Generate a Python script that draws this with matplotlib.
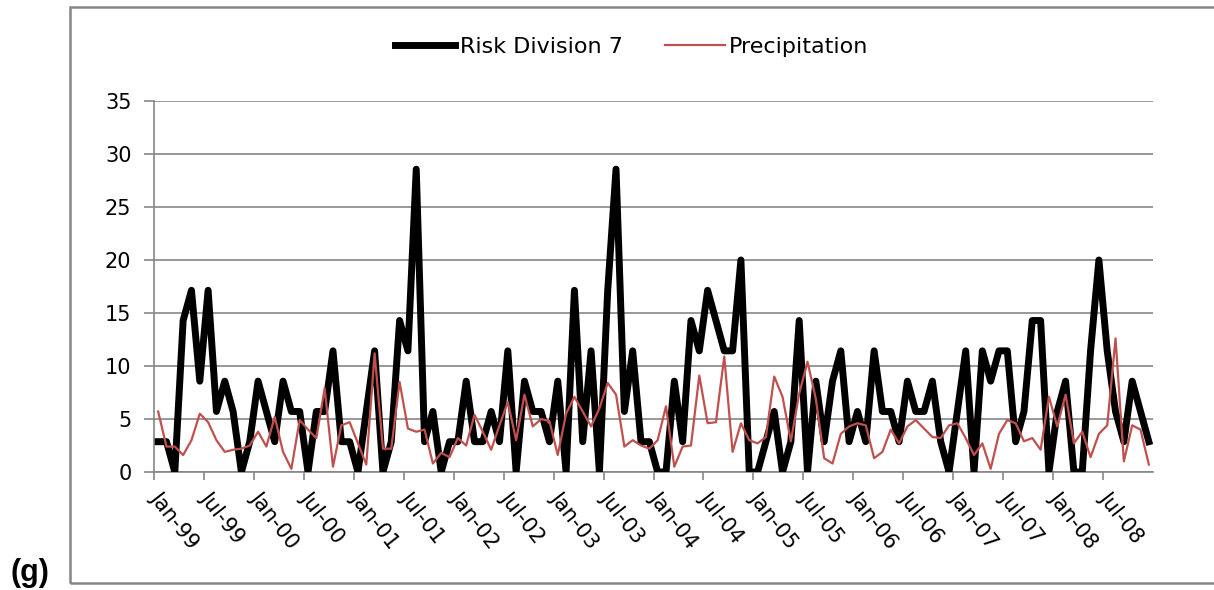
import numpy as np
import matplotlib.pyplot as plt
from matplotlib.patches import Rectangle

# monthly values, Jan-99 .. Dec-08
risk = [2.86, 2.86, 0, 14.29, 17.14, 8.57, 17.14, 5.71, 8.57, 5.71, 0, 2.86,
        8.57, 5.71, 2.86, 8.57, 5.71, 5.71, 0, 5.71, 5.71, 11.43, 2.86, 2.86,
        0, 5.71, 11.43, 0, 2.86, 14.29, 11.43, 28.57, 2.86, 5.71, 0, 2.86,
        2.86, 8.57, 2.86, 2.86, 5.71, 2.86, 11.43, 0, 8.57, 5.71, 5.71, 2.86,
        8.57, 0, 17.14, 2.86, 11.43, 0, 17.14, 28.57, 5.71, 11.43, 2.86, 2.86,
        0, 0, 8.57, 2.86, 14.29, 11.43, 17.14, 14.29, 11.43, 11.43, 20.0, 0,
        0, 2.86, 5.71, 0, 2.86, 14.29, 0, 8.57, 2.86, 8.57, 11.43, 2.86,
        5.71, 2.86, 11.43, 5.71, 5.71, 2.86, 8.57, 5.71, 5.71, 8.57, 2.86, 0,
        5.71, 11.43, 0, 11.43, 8.57, 11.43, 11.43, 2.86, 5.71, 14.29, 14.29, 0,
        5.71, 8.57, 0, 0, 11.43, 20.0, 11.43, 5.71, 2.86, 8.57, 5.71, 2.86]

precip = [5.7, 2.4, 2.4, 1.6, 3.0, 5.5, 4.7, 3.0, 1.9, 2.1, 2.2, 2.5,
          3.8, 2.4, 5.2, 1.9, 0.3, 4.9, 4.0, 3.2, 7.9, 0.5, 4.4, 4.7,
          2.7, 0.7, 11.2, 2.2, 2.2, 8.5, 4.1, 3.8, 4.0, 0.8, 1.8, 1.4,
          3.2, 2.5, 5.4, 3.8, 2.1, 4.4, 6.6, 3.0, 7.3, 4.3, 5.0, 4.8,
          1.6, 5.5, 7.1, 5.7, 4.3, 6.0, 8.4, 7.3, 2.4, 3.0, 2.5, 2.2,
          3.0, 6.2, 0.5, 2.4, 2.5, 9.1, 4.6, 4.7, 10.9, 1.9, 4.6, 3.0,
          2.7, 3.3, 9.0, 7.1, 2.9, 7.4, 10.4, 6.9, 1.3, 0.8, 3.6, 4.3,
          4.6, 4.4, 1.3, 1.9, 4.0, 2.7, 4.3, 4.9, 4.1, 3.3, 3.2, 4.4,
          4.6, 3.2, 1.6, 2.7, 0.3, 3.6, 4.9, 4.6, 2.9, 3.2, 2.1, 7.1,
          4.3, 7.3, 2.7, 3.8, 1.4, 3.6, 4.4, 12.6, 1.0, 4.4, 4.0, 0.7]

tick_labels = ['Jan-99', 'Jul-99', 'Jan-00', 'Jul-00', 'Jan-01', 'Jul-01',
               'Jan-02', 'Jul-02', 'Jan-03', 'Jul-03', 'Jan-04', 'Jul-04',
               'Jan-05', 'Jul-05', 'Jan-06', 'Jul-06', 'Jan-07', 'Jul-07',
               'Jan-08', 'Jul-08']

W, H = 1214, 590
grey = '#868686'

fig = plt.figure(figsize=(W / 100, H / 100), dpi=100)
ax = fig.add_axes([154 / W, 1 - 472 / H, (1153 - 154) / W, (472 - 101) / H])

x = np.arange(len(risk)) + 0.5
ax.plot(x, risk, color='black', lw=5, label='Risk Division 7', zorder=3)
ax.plot(x, precip, color='#C0504D', lw=1.6, label='Precipitation', zorder=4)

ax.set_xlim(0, 120)
ax.set_ylim(0, 35)
ax.set_yticks(range(0, 36, 5))
ax.yaxis.grid(True, color=grey, lw=1.2)
ax.set_axisbelow(True)

ax.set_xticks(np.arange(0, 120, 6))
ax.set_xticklabels(tick_labels, rotation=-52, ha='left', va='center',
                   rotation_mode='anchor')

for s in ['top', 'right']:
    ax.spines[s].set_visible(False)
for s in ['left', 'bottom']:
    ax.spines[s].set_color(grey)
    ax.spines[s].set_linewidth(1.2)

ax.tick_params(axis='y', length=7.2, width=1.2, color=grey, labelsize=15, pad=9)
ax.tick_params(axis='x', length=5.8, width=1.2, color=grey, labelsize=15, pad=10)

ax.legend(loc='center', bbox_to_anchor=(632 / W, 1 - 47 / H),
          bbox_transform=fig.transFigure, ncol=2, frameon=False,
          fontsize=16, handlelength=2.7, handletextpad=0.2, columnspacing=1.9)

# outer chart frame
fig.patches.append(Rectangle((70 / W, 1 - 583 / H), (W - 70 + 10) / W, (583 - 7) / H,
                             transform=fig.transFigure, fill=False,
                             ec=grey, lw=1.8))

fig.text(10 / W, 1 - 581 / H, '(g)', fontsize=22, fontweight='bold',
         family='Liberation Sans', va='baseline')

fig.savefig('out.png', dpi=100)
